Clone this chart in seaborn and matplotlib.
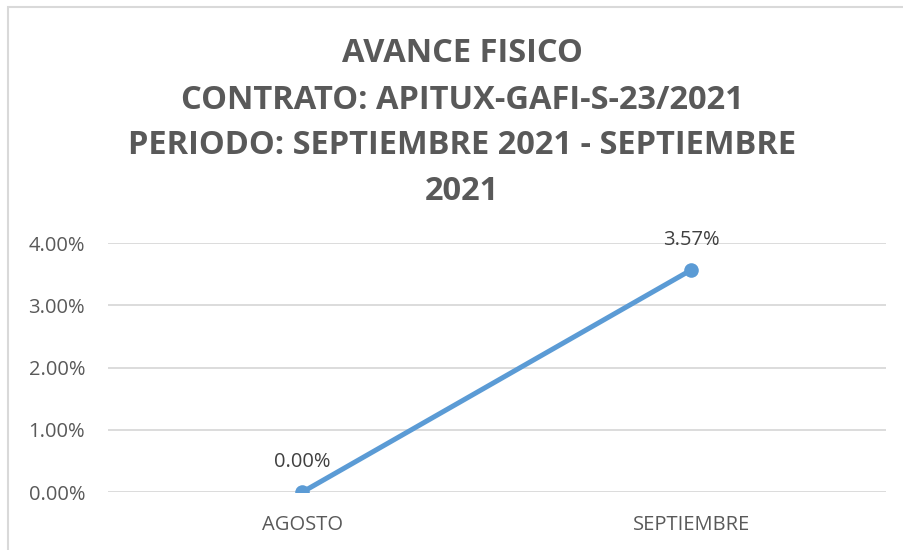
import matplotlib
matplotlib.use("Agg")
import matplotlib.pyplot as plt
import matplotlib.patches as patches
from matplotlib.ticker import FuncFormatter
import seaborn as sns
import pandas as pd

# data
months = ["AGOSTO", "SEPTIEMBRE"]
avance = [0.0, 3.57]
title_lines = [
    "AVANCE FISICO",
    "CONTRATO: APITUX-GAFI-S-23/2021",
    "PERIODO: SEPTIEMBRE 2021 - SEPTIEMBRE",
    "2021",
]

sns.set_theme(style="white")
plt.rcParams["font.family"] = ["Open Sans", "DejaVu Sans"]

grey = "#595959"
blue = "#5b9bd5"

fig = plt.figure(figsize=(9.04, 5.5), dpi=100)
ax = fig.add_axes([108 / 904, 1 - 492 / 550, 778 / 904, 249 / 550])

df = pd.DataFrame({"mes": months, "avance": avance})
sns.lineplot(data=df, x="mes", y="avance", ax=ax, color=blue, linewidth=3.6,
             marker="o", markersize=10.5, markeredgewidth=0, sort=False)

ax.set_xlim(-0.5, 1.5)
ax.set_ylim(0, 4)
ax.set_yticks([0, 1, 2, 3, 4])
ax.yaxis.set_major_formatter(FuncFormatter(lambda v, p: f"{v:.2f}%"))
ax.grid(axis="y", color="#d9d9d9", linewidth=1.3)
ax.set_axisbelow(True)
for s in ax.spines.values():
    s.set_visible(False)
ax.set_xlabel("")
ax.set_ylabel("")
ax.tick_params(axis="both", length=0, labelsize=14.5, labelcolor=grey)
ax.tick_params(axis="x", pad=16.5)
ax.tick_params(axis="y", pad=16.5)

# data labels
for i, v in enumerate(avance):
    ax.annotate(f"{v:.2f}%", (i, v), xytext=(0, 21.5), textcoords="offset points",
                ha="center", va="center", fontsize=14.5, color="#404040")

# title
ys = [53, 100, 145, 191]
for line, y in zip(title_lines, ys):
    fig.text(0.5 + 10 / 904, 1 - y / 550, line, ha="center", va="center",
             fontsize=23.5, fontweight="bold", color=grey)

# chart border
fig.patches.append(patches.Rectangle((8 / 904, -0.1), 1.2, 1 - 7 / 550 + 0.1,
                                     transform=fig.transFigure, fill=False,
                                     edgecolor="#d9d9d9", linewidth=1.5))

fig.savefig("out.png", dpi=100)
